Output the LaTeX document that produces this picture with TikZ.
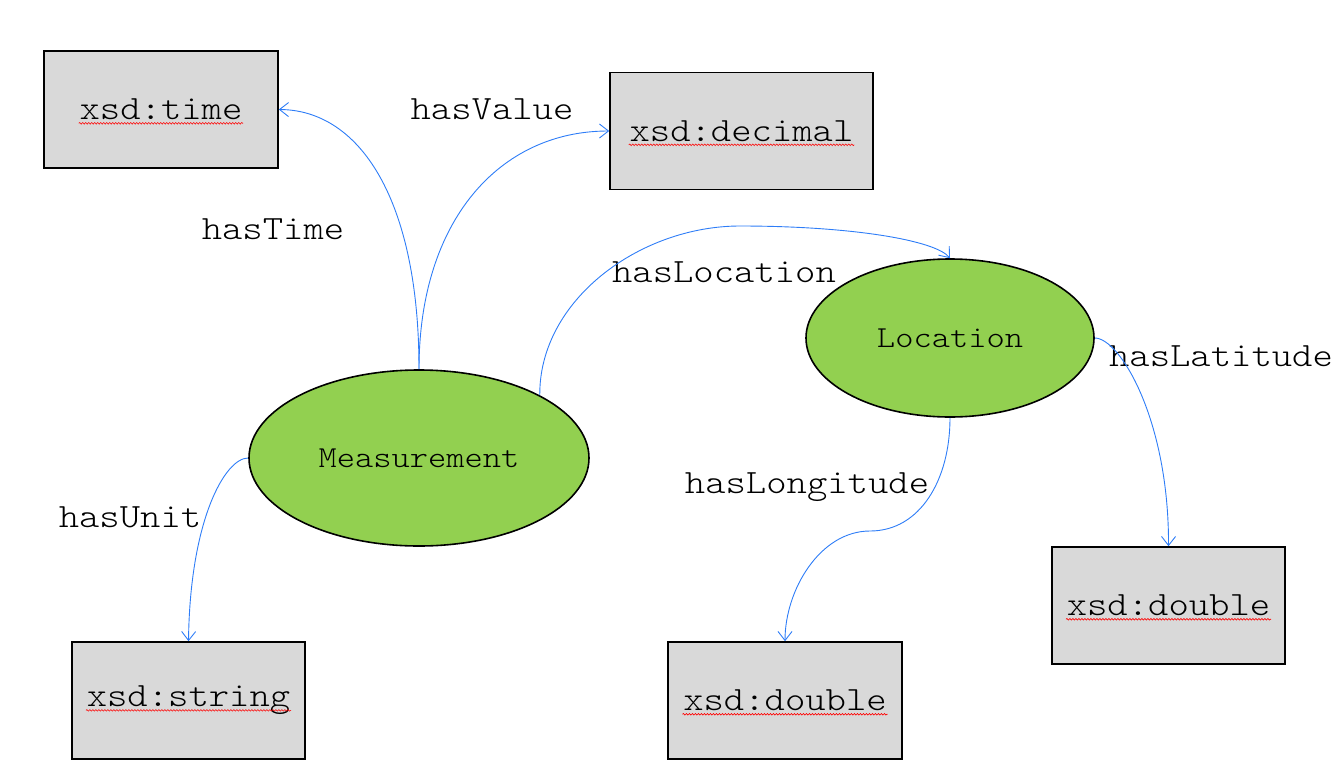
\documentclass[tikz,border=0pt]{standalone}
\usepackage{fontspec}
\usetikzlibrary{arrows.meta, shapes.geometric, decorations.pathmorphing}
\definecolor{cbox}{HTML}{D9D9D9}
\definecolor{cclass}{HTML}{92D050}
\definecolor{clink}{HTML}{2E7DF7}
\newfontfamily\monowide{lmmonolt10-regular.otf}[FakeStretch=1.14]
\tikzset{
  every picture/.style={line width=1.6pt},
  dtype/.style={draw=black, fill=cbox, minimum height=117pt, inner sep=0pt},
  dname/.style={font=\monowide\fontsize{34}{40}\selectfont, inner sep=0pt},
  cls/.style={ellipse, draw=black, fill=cclass, inner sep=0pt, font=\monowide\fontsize{30.5}{36}\selectfont},
  prop/.style={font=\monowide\fontsize{34}{40}\selectfont, inner sep=0pt, anchor=base},
  link/.style={-{Straight Barb[length=9pt, width=14pt]}, draw=clink, line width=0.9pt},
  spell/.style={draw=red, line width=0.6pt, decorate, decoration={snake, amplitude=0.8pt, segment length=3pt}},
}
\begin{document}
\begin{tikzpicture}[x=1pt, y=1pt]
  \useasboundingbox (0,0) rectangle (1335,-763);
  % datatype boxes
  \foreach \n/\x/\y/\w/\t in {
     time/161/109.5/234/xsd:time,
     decimal/741.5/131/263/xsd:decimal,
     string/188.5/700.5/233/xsd:string,
     dbllon/785/700.5/234/xsd:double,
     dbllat/1168.5/605.5/233/xsd:double} {
    \node[dtype, minimum width=\w] (\n) at (\x,-\y) {};
    \node[dname] (\n-t) at (\n) {\t};
    \draw[spell] ([yshift=-3.5pt]\n-t.base west) -- ([yshift=-3.5pt]\n-t.base east);
  }
  % classes
  \node[cls, minimum width=340pt, minimum height=176pt] (meas) at (419,-458) {Measurement};
  \node[cls, minimum width=288pt, minimum height=158pt] (loc) at (950,-338) {Location};
  % properties
  \node[prop] (ptime) at (273,-239) {hasTime};
  \node[prop] (pvalue) at (492,-119) {hasValue};
  \node[prop] (ploc) at (724,-282) {hasLocation};
  \node[prop] (punit) at (130,-527) {hasUnit};
  \node[prop] (plat) at (1221,-366) {hasLatitude};
  \node[prop] (plon) at (807,-493) {hasLongitude};
  \coordinate (locbend) at (740,-226);
  \coordinate (lonbend) at (870,-531);
  \draw[link] (meas.north) .. controls (419,-200) and (360,-110) .. (time.east);
  \draw[link] (meas.north) .. controls (419,-220) and (500,-131) .. (decimal.west);
  \draw[link] (meas.north east) .. controls (539,-300) and (640,-226) .. (locbend)
    .. controls (850,-226) and (935,-240) .. (loc.north);
  \draw[link] (meas.west) .. controls (225,-458) and (190,-520) .. (string.north);
  \draw[link] (loc.east) .. controls (1120,-338) and (1169,-420) .. (dbllat.north);
  \draw[link] (loc.south) .. controls (950,-480) and (920,-531) .. (lonbend)
    .. controls (820,-531) and (785,-590) .. (dbllon.north);
\end{tikzpicture}
\end{document}
